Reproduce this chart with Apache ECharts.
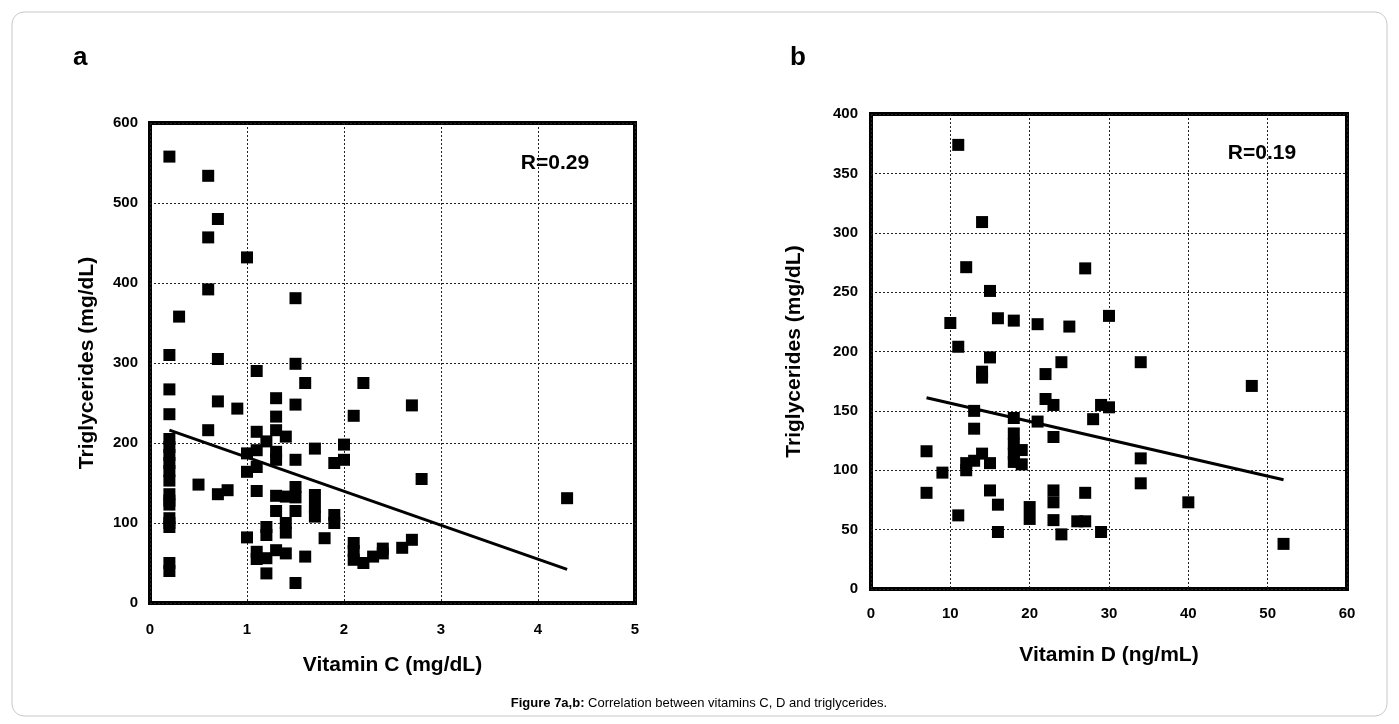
<!DOCTYPE html>
<html><head><meta charset="utf-8">
<script src="https://cdn.jsdelivr.net/npm/echarts@6/dist/echarts.min.js"></script>
<style>html,body{margin:0;padding:0;background:#fff;}#c{width:1399px;height:724px;}</style>
</head><body><div id="c"></div>
<script>
// Panel a: Vitamin C vs Triglycerides
const vitCx = [0.2,0.2,0.2,0.2,0.2,0.2,0.2,0.2,0.2,0.2,0.2,0.2,0.2,0.2,0.2,0.2,0.2,0.2,
  0.3,0.5,0.6,0.6,0.6,0.6,0.7,0.7,0.7,0.7,0.8,0.9,
  1.0,1.0,1.0,1.0,1.1,1.1,1.1,1.1,1.1,1.1,1.1,1.2,1.2,1.2,1.2,1.2,
  1.3,1.3,1.3,1.3,1.3,1.3,1.3,1.3,1.4,1.4,1.4,1.4,1.4,
  1.5,1.5,1.5,1.5,1.5,1.5,1.5,1.5,1.6,1.6,1.7,1.7,1.7,1.7,1.8,1.9,1.9,1.9,2.0,2.0,
  2.1,2.1,2.1,2.1,2.2,2.2,2.3,2.4,2.4,2.6,2.7,2.7,2.8,4.3];
const vitCy = [558,310,267,236,205,195,185,175,165,153,136,128,123,106,100,95,50,40,
  358,148,534,457,392,216,480,305,252,136,141,243,
  432,187,164,82,290,214,191,170,140,64,55,202,95,85,56,37,
  256,233,216,189,179,134,115,66,208,133,100,88,62,
  381,299,248,179,145,132,115,25,275,58,193,135,120,108,81,175,110,100,198,179,
  234,75,65,54,275,50,58,62,68,69,247,79,155,131];
const trendCx = [0.2, 4.3];
const trendCy = [216, 42];

// Panel b: Vitamin D vs Triglycerides
const vitDx = [11,14,12,27,15,10,16,18,21,25,30,11,15,24,34,48,14,14,22,22,23,29,30,28,13,18,21,13,23,18,18,19,18,18,19,
  7,14,13,12,12,15,9,7,15,23,23,27,16,11,20,20,23,26,27,16,24,29,34,34,40,52];
const vitDy = [374,309,271,270,251,224,228,226,223,221,230,204,195,191,191,171,183,178,181,160,155,155,153,143,150,144,141,135,128,131,122,117,114,107,105,
  116,114,108,106,100,106,98,81,83,83,73,81,71,62,69,59,58,57,57,48,46,48,110,89,73,38];
const trendDx = [7, 52];
const trendDy = [161, 92];

const xTicksC = {min:0, max:5, interval:1};
const yTicksC = {min:0, max:600, interval:100};
const xTicksD = {min:0, max:60, interval:10};
const yTicksD = {min:0, max:400, interval:50};

const FONT = '"Liberation Sans", Arial, sans-serif';
const pair = (xs, ys) => xs.map((x, i) => [x, ys[i]]);
const split = {show:true, lineStyle:{color:'#222', width:1, type:[2,2]}};
const lab = {color:'#000', fontFamily:FONT, fontWeight:'bold', fontSize:15};
const nameSt = {color:'#000', fontFamily:FONT, fontWeight:'bold', fontSize:21};

function xAx(gi, t, name, gap, m){
  return Object.assign({type:'value', gridIndex:gi, name:name, nameLocation:'middle', nameGap:gap,
    nameTextStyle:nameSt, axisLine:{show:false}, axisTick:{show:false},
    axisLabel:Object.assign({margin:m}, lab), splitLine:split}, t);
}
function yAx(gi, t, name, gap, m){
  return Object.assign({type:'value', gridIndex:gi, name:name, nameLocation:'middle', nameGap:gap,
    nameTextStyle:nameSt, axisLine:{show:false}, axisTick:{show:false},
    axisLabel:Object.assign({margin:m}, lab), splitLine:split}, t);
}

const sq = {color:'#000', opacity:1};
const chart = echarts.init(document.getElementById('c'));
chart.setOption({
  animation:false,
  backgroundColor:'#fff',
  grid:[
    {left:150, top:123, width:485, height:480, show:true, borderColor:'#000', borderWidth:4, backgroundColor:'transparent'},
    {left:871, top:114, width:476, height:475, show:true, borderColor:'#000', borderWidth:4, backgroundColor:'transparent'}
  ],
  xAxis:[ xAx(0, xTicksC, 'Vitamin C (mg/dL)', 52, 19), xAx(1, xTicksD, 'Vitamin D (ng/mL)', 56, 17) ],
  yAxis:[ yAx(0, yTicksC, 'Triglycerides (mg/dL)', 52, 12), yAx(1, yTicksD, 'Triglycerides (mg/dL)', 66, 13) ],
  series:[
    {type:'scatter', xAxisIndex:0, yAxisIndex:0, symbol:'rect', symbolSize:12, itemStyle:sq, data:pair(vitCx, vitCy)},
    {type:'line', xAxisIndex:0, yAxisIndex:0, showSymbol:false, lineStyle:{color:'#000', width:3}, data:pair(trendCx, trendCy)},
    {type:'scatter', xAxisIndex:1, yAxisIndex:1, symbol:'rect', symbolSize:12, itemStyle:sq, data:pair(vitDx, vitDy)},
    {type:'line', xAxisIndex:1, yAxisIndex:1, showSymbol:false, lineStyle:{color:'#000', width:3}, data:pair(trendDx, trendDy)}
  ],
  graphic:[
    {type:'rect', shape:{x:12, y:12, width:1375, height:704, r:12}, style:{fill:'none', stroke:'#c8c8c8', lineWidth:1}, silent:true},
    {type:'text', left:73, top:45, style:{text:'a', font:'bold 26px ' + FONT, fill:'#000'}},
    {type:'text', left:790, top:45, style:{text:'b', font:'bold 26px ' + FONT, fill:'#000'}},
    {type:'text', x:555, y:163, style:{text:'R=0.29', font:'bold 21px ' + FONT, fill:'#000', align:'center', verticalAlign:'middle'}},
    {type:'text', x:1262, y:153, style:{text:'R=0.19', font:'bold 21px ' + FONT, fill:'#000', align:'center', verticalAlign:'middle'}},
    {type:'text', x:699, y:703, style:{
      text:'{b|Figure 7a,b:} Correlation between vitamins C, D and triglycerides.',
      rich:{b:{fontWeight:'bold', fontSize:13, fontFamily:FONT, fill:'#000'}},
      font:'13px ' + FONT, fill:'#000', align:'center', verticalAlign:'middle'}}
  ]
});
</script></body></html>
